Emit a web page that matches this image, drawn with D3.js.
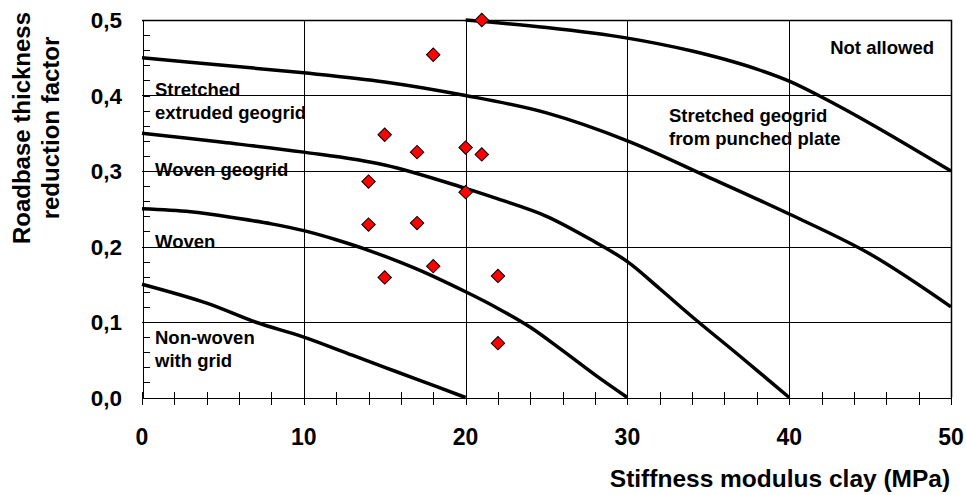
<!DOCTYPE html>
<html>
<head>
<meta charset="utf-8">
<script src="https://cdn.jsdelivr.net/npm/d3@7"></script>
<style>
  body { margin: 0; background: #fff; }
  svg { display: block; font-family: "Liberation Sans", Arial, sans-serif; font-weight: bold; }
  .grid line { stroke: #000; stroke-width: 1; shape-rendering: crispEdges; }
  .axis path, .axis line { stroke: #000; stroke-width: 1; shape-rendering: crispEdges; }
  .curve { fill: none; stroke: #000; stroke-width: 3.5; }
  .dots { fill: #ff0000; stroke: #000; stroke-width: 1; }
  .zone { font-size: 18.5px; fill: #000; }
</style>
</head>
<body>
<svg></svg>
<script>
// x = stiffness modulus clay (MPa), y = roadbase thickness reduction factor
var notAllowedX = [20, 25, 30, 34, 36, 38, 40, 42, 45, 50];
var notAllowedY = [0.5, 0.49, 0.476, 0.459, 0.448, 0.435, 0.419, 0.398, 0.363, 0.3];

var punchedX = [0, 5, 10, 15, 20, 25, 30, 35, 40, 45, 50];
var punchedY = [0.45, 0.44, 0.43, 0.418, 0.4, 0.377, 0.34, 0.292, 0.243, 0.19, 0.12];

var extrudedX = [0, 5, 10, 15, 20, 22, 25, 28, 30, 32, 34, 37, 40];
var extrudedY = [0.35, 0.338, 0.325, 0.308, 0.277, 0.263, 0.24, 0.206, 0.18, 0.144, 0.107, 0.054, 0];

var wovenX = [0, 3, 6, 8, 10, 12, 14, 17, 20, 22, 24, 26, 28, 30];
var wovenY = [0.25, 0.246, 0.237, 0.23, 0.221, 0.209, 0.195, 0.17, 0.14, 0.118, 0.093, 0.062, 0.03, 0];

var nonWovenX = [0, 4, 7, 10, 13, 15, 17, 20];
var nonWovenY = [0.15, 0.125, 0.1, 0.08, 0.056, 0.04, 0.024, 0];

var pointX = [21, 18, 15, 17, 20, 21, 14, 20, 14, 17, 18, 15, 22, 22];
var pointY = [0.5, 0.454, 0.348, 0.325, 0.331, 0.322, 0.286, 0.272, 0.229, 0.231, 0.174, 0.159, 0.161, 0.072];

var xTicks = [0, 10, 20, 30, 40, 50];
var yTicks = [0, 0.1, 0.2, 0.3, 0.4, 0.5];

var zoneLabels = [
  { lines: ["Stretched", "extruded geogrid"], x: 155, y: 96, anchor: "start" },
  { lines: ["Woven geogrid"], x: 155, y: 176, anchor: "start" },
  { lines: ["Woven"], x: 155, y: 248, anchor: "start" },
  { lines: ["Non-woven", "with grid"], x: 155, y: 344, anchor: "start" },
  { lines: ["Not allowed"], x: 934, y: 54, anchor: "end" },
  { lines: ["Stretched geogrid", "from punched plate"], x: 669, y: 122, anchor: "start" }
];

function zip(xs, ys) {
  return xs.map(function(x, i) { return { x: x, y: ys[i] }; });
}

function drawChart() {
  var width = 966;
  var height = 495;
  var left = 142, right = 951, top = 20, bottom = 397.5;

  var svg = d3.select("svg")
    .attr("width", width)
    .attr("height", height);

  var xscale = d3.scaleLinear().domain([0, 50]).range([left, right]);
  var yscale = d3.scaleLinear().domain([0, 0.5]).range([bottom, top]);

  //Grid
  var grid = svg.append("g").attr("class", "grid");
  grid.selectAll(".vg")
    .data(xTicks.slice(1))
    .enter()
    .append("line")
    .attr("x1", function(d) { return Math.round(xscale(d)) + 0.5; })
    .attr("x2", function(d) { return Math.round(xscale(d)) + 0.5; })
    .attr("y1", top)
    .attr("y2", bottom);
  grid.selectAll(".hg")
    .data(yTicks.slice(1))
    .enter()
    .append("line")
    .attr("x1", left)
    .attr("x2", right)
    .attr("y1", function(d) { return Math.round(yscale(d)) + 0.5; })
    .attr("y2", function(d) { return Math.round(yscale(d)) + 0.5; });

  //Axes with crossing minor ticks
  var fmt = function(d) { return d3.format(".1f")(d).replace(".", ","); };

  var yaxis = svg.append("g")
    .attr("class", "axis")
    .attr("transform", "translate(" + (left + 0.5) + ",0)");
  yaxis.call(d3.axisLeft(yscale).tickValues(d3.range(0, 0.501, 0.02)).tickSize(8).tickSizeOuter(0).tickFormat(""));
  yaxis.selectAll(".tick line").attr("x2", 7);

  var xaxis = svg.append("g")
    .attr("class", "axis")
    .attr("transform", "translate(0," + (bottom + 0.5) + ")");
  xaxis.call(d3.axisBottom(xscale).tickValues(d3.range(0, 50.1, 2)).tickSize(7).tickSizeOuter(0).tickFormat(""));
  xaxis.selectAll(".tick line").attr("y1", -6);

  //Tick labels
  svg.append("g").selectAll("text")
    .data(yTicks)
    .enter()
    .append("text")
    .attr("x", 122)
    .attr("y", function(d) { return yscale(d) + 8; })
    .attr("text-anchor", "end")
    .style("font-size", "22.5px")
    .text(fmt);

  svg.append("g").selectAll("text")
    .data(xTicks)
    .enter()
    .append("text")
    .attr("x", function(d) { return xscale(d); })
    .attr("y", 445)
    .attr("text-anchor", "middle")
    .style("font-size", "23px")
    .text(function(d) { return d; });

  //Axis titles
  svg.append("text")
    .attr("x", 780)
    .attr("y", 487)
    .attr("text-anchor", "middle")
    .style("font-size", "24.5px")
    .text("Stiffness modulus clay (MPa)");

  var ytitle = svg.append("text")
    .attr("transform", "translate(30,128) rotate(-90)")
    .attr("text-anchor", "middle")
    .style("font-size", "24px");
  ytitle.append("tspan").attr("x", 0).attr("y", 0).text("Roadbase thickness");
  ytitle.append("tspan").attr("x", 0).attr("y", 29).text("reduction factor");

  //Boundary curves
  var line = d3.line()
    .x(function(d) { return xscale(d.x); })
    .y(function(d) { return yscale(d.y); })
    .curve(d3.curveCatmullRom.alpha(0.5));

  var curves = [
    zip(notAllowedX, notAllowedY),
    zip(punchedX, punchedY),
    zip(extrudedX, extrudedY),
    zip(wovenX, wovenY),
    zip(nonWovenX, nonWovenY)
  ];

  svg.append("g").selectAll("path")
    .data(curves)
    .enter()
    .append("path")
    .attr("class", "curve")
    .attr("d", line);

  //Frame (top and right)
  svg.append("path")
    .attr("d", "M" + left + "," + (top + 0.5) + "H" + (right + 0.5) + "V" + bottom)
    .attr("fill", "none")
    .attr("stroke", "#000")
    .attr("stroke-width", 1.5);

  //Zone labels
  var labels = svg.append("g").selectAll("text")
    .data(zoneLabels)
    .enter()
    .append("text")
    .attr("class", "zone")
    .attr("text-anchor", function(d) { return d.anchor; });
  labels.selectAll("tspan")
    .data(function(d) { return d.lines.map(function(l, i) { return { t: l, x: d.x, y: d.y + i * 23 }; }); })
    .enter()
    .append("tspan")
    .attr("x", function(d) { return d.x; })
    .attr("y", function(d) { return d.y; })
    .text(function(d) { return d.t; });

  //Measured points
  var diamond = d3.symbol().type(d3.symbolSquare).size(90);
  svg.append("g").selectAll("path")
    .data(zip(pointX, pointY))
    .enter()
    .append("path")
    .attr("class", "dots")
    .attr("d", diamond)
    .attr("transform", function(d) { return "translate(" + xscale(d.x) + "," + yscale(d.y) + ") rotate(45)"; });
}

drawChart();
</script>
</body>
</html>
